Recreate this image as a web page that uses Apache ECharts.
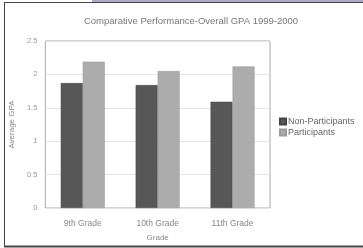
<!DOCTYPE html>
<html><head><meta charset="utf-8">
<script src="https://cdn.jsdelivr.net/npm/echarts@6/dist/echarts.min.js"></script>
<style>html,body{margin:0;padding:0;background:#fff}#c{width:363px;height:248px}</style>
</head><body><div id="c"></div>
<script>
var categories = ['9th Grade', '10th Grade', '11th Grade'];
var nonParticipants = [1.87, 1.84, 1.59];
var participants = [2.19, 2.05, 2.12];
var yTicks = [0, 0.5, 1, 1.5, 2, 2.5];

var chart = echarts.init(document.getElementById('c'), null, {renderer: 'canvas'});
chart.setOption({
  backgroundColor: '#fff',
  animation: false,
  title: {
    text: 'Comparative Performance-Overall GPA 1999-2000',
    left: 186, top: 11, textAlign: 'center',
    textStyle: {fontFamily: 'Liberation Sans', fontSize: 9.5, fontWeight: 'normal', color: '#777'}
  },
  legend: {
    orient: 'vertical', left: 274, top: 112,
    itemWidth: 6, itemHeight: 6, itemGap: 2,
    icon: 'rect',
    textStyle: {fontFamily: 'Liberation Sans', fontSize: 9, color: '#666', padding: [0, 0, 0, -3]},
    data: ['Non-Participants', 'Participants']
  },
  grid: {left: 42, right: 93, top: 41, bottom: 40, show: true, borderColor: '#aaa', borderWidth: 1},
  xAxis: {
    type: 'category', data: categories,
    name: 'Grade', nameLocation: 'middle', nameGap: 26,
    nameTextStyle: {fontFamily: 'Liberation Sans', fontSize: 8, color: '#888'},
    axisLine: {show: false}, axisTick: {show: false},
    axisLabel: {fontFamily: 'Liberation Sans', fontSize: 8.5, color: '#888', margin: 11}
  },
  yAxis: {
    type: 'value', min: 0, max: 2.5, interval: 0.5,
    name: 'Average GPA', nameLocation: 'middle', nameGap: 24,
    nameTextStyle: {fontFamily: 'Liberation Sans', fontSize: 8, color: '#888'},
    axisLine: {show: false}, axisTick: {show: false},
    splitLine: {lineStyle: {color: '#e4e4e4'}},
    axisLabel: {fontFamily: 'Liberation Sans', fontSize: 7.5, color: '#999', margin: 8,
      formatter: function (v) { return yTicks.indexOf(v) >= 0 ? String(v) : ''; }}
  },
  series: [
    {name: 'Non-Participants', type: 'bar', data: nonParticipants, barWidth: 22, barGap: '0%',
     itemStyle: {color: '#575757', borderColor: '#444', borderWidth: 0.5}},
    {name: 'Participants', type: 'bar', data: participants, barWidth: 22,
     itemStyle: {color: '#acacac', borderColor: '#999', borderWidth: 0.5}}
  ],
  graphic: [
    {type: 'rect', shape: {x: 92, y: 0, width: 271, height: 2}, style: {fill: '#a9a9c8'}},
    {type: 'line', shape: {x1: 4, y1: 2.5, x2: 363, y2: 2.5}, style: {stroke: '#444', lineWidth: 1}},
    {type: 'line', shape: {x1: 4.5, y1: 2, x2: 4.5, y2: 247}, style: {stroke: '#444', lineWidth: 1}},
    {type: 'line', shape: {x1: 4, y1: 246.5, x2: 363, y2: 246.5}, style: {stroke: '#444', lineWidth: 2}}
  ]
});
</script></body></html>
